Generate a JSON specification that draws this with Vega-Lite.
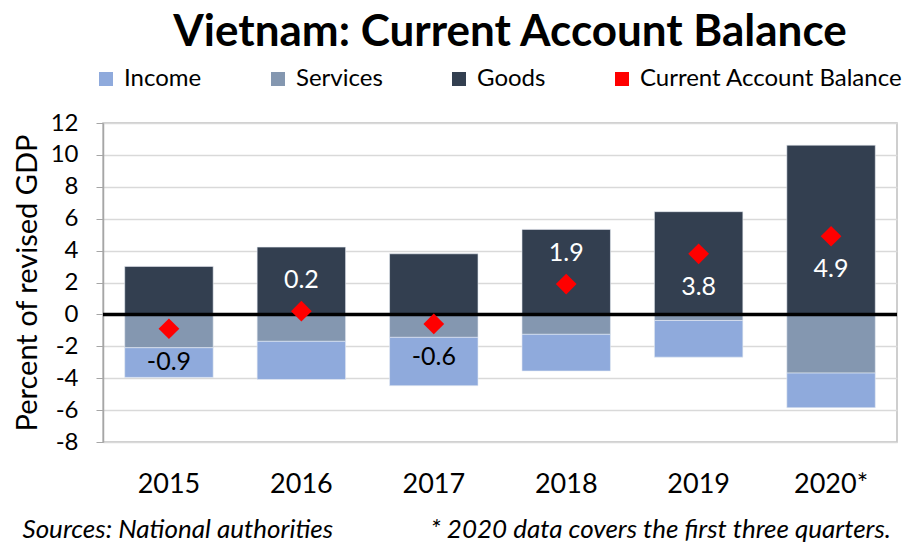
{
  "$schema": "https://vega.github.io/schema/vega-lite/v6.json",
  "width": 794,
  "height": 319,
  "autosize": {"type": "none"},
  "padding": {"left": 103, "top": 123, "right": 15, "bottom": 102},
  "background": "white",
  "config": {
    "font": "Lato",
    "view": {"stroke": "#bfbfbf", "strokeWidth": 1.5},
    "axis": {"labelFont": "Lato", "titleFont": "Lato", "labelColor": "black", "titleColor": "black"},
    "axisY": {
      "labelFontSize": 24,
      "labelPadding": 18,
      "labelOverlap": false,
      "tickCount": 12,
      "tickSize": 7,
      "tickColor": "#a6a6a6",
      "domainColor": "#a6a6a6",
      "domainWidth": 1.5,
      "gridColor": "#d9d9d9",
      "gridWidth": 1.5,
      "titleFontSize": 29,
      "titleFontWeight": "normal",
      "titlePadding": 8
    }
  },
  "title": {
    "text": "Vietnam: Current Account Balance",
    "font": "Lato",
    "fontSize": 44,
    "fontWeight": "bold",
    "color": "black",
    "anchor": "middle",
    "offset": 12,
    "dx": 10
  },
  "datasets": {
    "bars": [
      {"year": "2015", "series": "Goods", "value": 3.01},
      {"year": "2015", "series": "Services", "value": -2.09},
      {"year": "2015", "series": "Income", "value": -1.86},
      {"year": "2016", "series": "Goods", "value": 4.22},
      {"year": "2016", "series": "Services", "value": -1.69},
      {"year": "2016", "series": "Income", "value": -2.39},
      {"year": "2017", "series": "Goods", "value": 3.8},
      {"year": "2017", "series": "Services", "value": -1.44},
      {"year": "2017", "series": "Income", "value": -3.03},
      {"year": "2018", "series": "Goods", "value": 5.33},
      {"year": "2018", "series": "Services", "value": -1.25},
      {"year": "2018", "series": "Income", "value": -2.3},
      {"year": "2019", "series": "Goods", "value": 6.44},
      {"year": "2019", "series": "Services", "value": -0.38},
      {"year": "2019", "series": "Income", "value": -2.3},
      {"year": "2020*", "series": "Goods", "value": 10.61},
      {"year": "2020*", "series": "Services", "value": -3.68},
      {"year": "2020*", "series": "Income", "value": -2.17}
    ],
    "cab": [
      {"year": "2015", "series": "Current Account Balance", "cab": -0.9},
      {"year": "2016", "series": "Current Account Balance", "cab": 0.2},
      {"year": "2017", "series": "Current Account Balance", "cab": -0.6},
      {"year": "2018", "series": "Current Account Balance", "cab": 1.9},
      {"year": "2019", "series": "Current Account Balance", "cab": 3.8},
      {"year": "2020*", "series": "Current Account Balance", "cab": 4.9}
    ]
  },
  "layer": [
    {
      "data": {"name": "bars"},
      "mark": {"type": "bar", "stroke": "#e8ecf4", "strokeWidth": 0.6},
      "encoding": {
        "x": {
          "field": "year",
          "type": "nominal",
          "sort": null,
          "scale": {"paddingInner": 0.332, "paddingOuter": 0.164},
          "axis": {
            "labelAngle": 0,
            "labelFontSize": 27,
            "labelPadding": 29,
            "ticks": false,
            "domain": false,
            "title": "Sources: National authorities\u00a0\u00a0\u00a0\u00a0\u00a0\u00a0\u00a0\u00a0\u00a0\u00a0\u00a0\u00a0\u00a0\u00a0\u00a0\u00a0* 2020 data covers the first three quarters.",
            "titleFontSize": 26,
            "titleFontStyle": "italic",
            "titleFontWeight": "normal",
            "titleAnchor": "start",
            "titleAlign": "left",
            "titleX": -81,
            "titleY": 95,
            "titleBaseline": "alphabetic"
          }
        },
        "y": {
          "field": "value",
          "type": "quantitative",
          "stack": "zero",
          "scale": {"domain": [-8, 12], "nice": false},
          "axis": {
            "values": [-8, -6, -4, -2, 0, 2, 4, 6, 8, 10, 12],
            "tickCount": 12,
            "labelExpr": "replace(datum.label, '\u2212', '-')",
            "title": "Percent of revised GDP"
          }
        },
        "color": {
          "field": "series",
          "type": "nominal",
          "scale": {
            "domain": ["Income", "Services", "Goods", "Current Account Balance"],
            "range": ["#8FAADC", "#8497B0", "#333F50", "#FF0000"]
          },
          "legend": {
            "orient": "none",
            "legendX": -9,
            "legendY": -56,
            "direction": "horizontal",
            "columns": 4,
            "title": null,
            "padding": 0,
            "labelFontSize": 24,
            "labelFont": "Lato",
            "labelColor": "black",
            "labelOffset": 6,
            "columnPadding": 64,
            "symbolSize": 196,
            "symbolStrokeWidth": 0,
            "labelLimit": 400,
            "encode": {
              "symbols": {
                "shape": {"condition": {"test": "datum.label === 'Current Account Balance'", "value": "diamond"}, "value": "square"},
                "size": {"condition": {"test": "datum.label === 'Current Account Balance'", "value": 340}, "value": 200},
                "strokeWidth": {"value": 0}
              }
            }
          }
        },
        "order": {"field": "series", "sort": "descending"}
      }
    },
    {
      "data": {"values": [{}]},
      "mark": {"type": "rule", "color": "black", "strokeWidth": 3.5},
      "encoding": {"y": {"datum": 0, "type": "quantitative"}}
    },
    {
      "data": {"name": "cab"},
      "mark": {"type": "point", "shape": "diamond", "filled": true, "size": 430, "opacity": 1},
      "encoding": {
        "x": {"field": "year", "type": "nominal", "sort": null},
        "y": {"field": "cab", "type": "quantitative"},
        "color": {"field": "series", "type": "nominal"}
      }
    },
    {
      "data": {"name": "cab"},
      "transform": [{"filter": "datum.year === '2016' || datum.year === '2018'"}],
      "mark": {"type": "text", "fontSize": 25, "dy": -31, "baseline": "middle"},
      "encoding": {
        "x": {"field": "year", "type": "nominal", "sort": null},
        "y": {"field": "cab", "type": "quantitative"},
        "text": {"field": "cab", "type": "nominal"},
        "color": {"condition": {"test": "datum.cab > 0", "value": "white"}, "value": "black"}
      }
    },
    {
      "data": {"name": "cab"},
      "transform": [{"filter": "datum.year !== '2016' && datum.year !== '2018'"}],
      "mark": {"type": "text", "fontSize": 25, "dy": 33, "baseline": "middle"},
      "encoding": {
        "x": {"field": "year", "type": "nominal", "sort": null},
        "y": {"field": "cab", "type": "quantitative"},
        "text": {"field": "cab", "type": "nominal"},
        "color": {"condition": {"test": "datum.cab > 0", "value": "white"}, "value": "black"}
      }
    }
  ]
}
